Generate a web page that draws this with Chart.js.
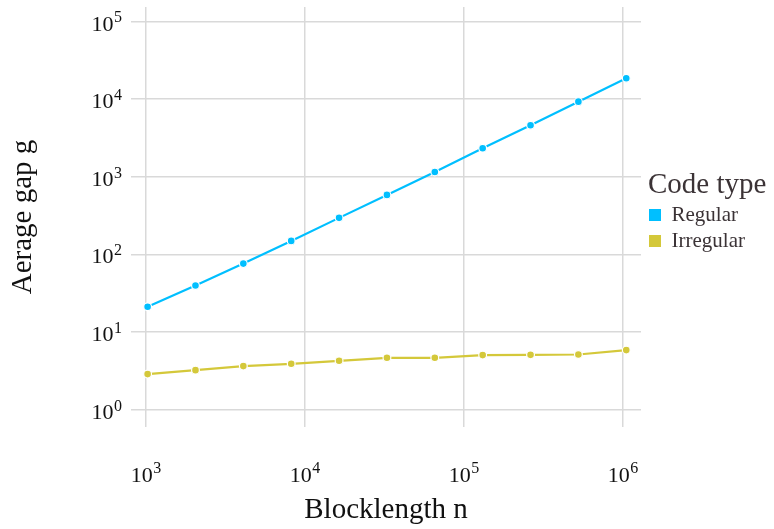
<!DOCTYPE html>
<html>
<head>
<meta charset="utf-8">
<script src="https://cdn.jsdelivr.net/npm/chart.js@4/dist/chart.umd.min.js"></script>
<style>
  html, body { margin: 0; padding: 0; background: #ffffff; }
  #wrap { width: 774px; height: 529px; position: relative; }
</style>
</head>
<body>
<div id="wrap"><canvas id="c"></canvas></div>
<script>
// ---- data ----
const blocklengths = [1024, 2048, 4096, 8192, 16384, 32768, 65536, 131072, 262144, 524288, 1048576];
const regularGap = [21.2, 39.8, 76.3, 149.6, 296, 585, 1156, 2335, 4616, 9290, 18580];
const irregularGap = [2.88, 3.24, 3.65, 3.91, 4.27, 4.67, 4.67, 5.06, 5.10, 5.15, 5.87];
const seriesNames = ['Regular', 'Irregular'];
const seriesColors = ['#00BFFF', '#D4C83A'];
const xTickValues = [1e3, 1e4, 1e5, 1e6];
const yTickValues = [1e0, 1e1, 1e2, 1e3, 1e4, 1e5];
const xTitle = 'Blocklength n';
const yTitle = 'Aerage gap g';
const legendTitle = 'Code type';

const FONT = "'Liberation Serif', 'DejaVu Serif', serif";

function expOf(v) { return String(Math.round(Math.log10(v))); }

// draws tick labels as "10" with a raised exponent
const powerTicksPlugin = {
  id: 'powerTicks',
  afterDraw(chart) {
    const ctx = chart.ctx;
    const base = '22px ' + FONT;
    const sup = '16px ' + FONT;
    ctx.save();
    ctx.fillStyle = '#111111';
    ctx.textBaseline = 'alphabetic';
    ctx.textAlign = 'left';
    const ys = chart.scales.y;
    yTickValues.forEach(v => {
      const py = ys.getPixelForValue(v);
      const e = expOf(v);
      ctx.font = sup; const ew = ctx.measureText(e).width;
      ctx.font = base; const bw = ctx.measureText('10').width;
      const right = ys.right - 9;
      ctx.fillText('10', right - ew - bw - 0.5, py + 9);
      ctx.font = sup; ctx.fillText(e, right - ew, py + 0.8);
    });
    const xs = chart.scales.x;
    xTickValues.forEach(v => {
      const px = xs.getPixelForValue(v);
      const e = expOf(v);
      ctx.font = sup; const ew = ctx.measureText(e).width;
      ctx.font = base; const bw = ctx.measureText('10').width;
      const left = px - (bw + ew + 0.5) / 2;
      ctx.fillText('10', left, 481.5);
      ctx.font = sup; ctx.fillText(e, left + bw + 0.5, 472.5);
    });
    ctx.restore();
  }
};

const layoutPlugin = {
  id: 'layoutTweaks',
  afterInit(chart) {
    const lg = chart.legend;
    if (!lg) return;
    const origFit = lg.fit.bind(lg);
    lg.fit = function () { origFit(); this.width = 133; };
    const tName = typeof lg.drawTitle === 'function' ? 'drawTitle' : (typeof lg._drawTitle === 'function' ? '_drawTitle' : null);
    if (tName) {
      const origTitle = lg[tName].bind(lg);
      lg[tName] = function () { this.left += 4; try { origTitle(); } finally { this.left -= 4; } };
    }
  },
  afterLayout(chart) {
    const lg = chart.legend;
    if (!lg) return;
    const h = lg.height;
    lg.left += 3; lg.right += 3;
    lg.top = 170.5; lg.bottom = lg.top + h;
  }
};

const datasets = [regularGap, irregularGap].map((vals, k) => ({
  label: seriesNames[k],
  data: blocklengths.map((x, i) => ({ x: x, y: vals[i] })),
  borderColor: seriesColors[k],
  backgroundColor: seriesColors[k],
  pointBackgroundColor: seriesColors[k],
  pointBorderColor: '#ffffff',
  pointBorderWidth: 1.2,
  pointRadius: 3.9,
  borderWidth: 2.2,
  tension: 0,
  fill: false
}));

new Chart(document.getElementById('c'), {
  type: 'line',
  data: { datasets: datasets },
  plugins: [layoutPlugin, powerTicksPlugin],
  options: {
    responsive: true,
    maintainAspectRatio: false,
    animation: false,
    devicePixelRatio: 1,
    layout: { padding: { top: 7, left: 0, right: 0, bottom: 0 } },
    plugins: {
      tooltip: { enabled: false },
      legend: {
        position: 'right',
        align: 'start',
        title: {
          display: true,
          text: legendTitle,
          position: 'start',
          color: '#3b3336',
          padding: 0,
          font: { family: FONT, size: 29, lineHeight: 1.0 }
        },
        labels: {
          color: '#3b3336',
          font: { family: FONT, size: 21 },
          boxWidth: 12,
          boxHeight: 12,
          padding: 5,
          generateLabels(chart) {
            const items = Chart.defaults.plugins.legend.labels.generateLabels(chart);
            items.forEach(it => { it.lineWidth = 0; it.strokeStyle = it.fillStyle; });
            return items;
          }
        }
      }
    },
    scales: {
      x: {
        type: 'logarithmic',
        position: 'bottom',
        min: 805,
        max: 1.298e6,
        afterBuildTicks(scale) { scale.ticks = xTickValues.map(v => ({ value: v })); },
        afterFit(scale) { scale.height = 102; scale.paddingLeft = 0; scale.paddingRight = 0; },
        border: { display: false },
        grid: { color: '#d9d9d9', lineWidth: 1.5, drawTicks: false },
        ticks: { display: false, autoSkip: false, maxRotation: 0 },
        title: {
          display: true,
          text: xTitle,
          color: '#111111',
          padding: { top: 0, bottom: 1 },
          font: { family: FONT, size: 29 }
        }
      },
      y: {
        type: 'logarithmic',
        position: 'left',
        min: 0.641,
        max: 153800,
        afterBuildTicks(scale) { scale.ticks = yTickValues.map(v => ({ value: v })); },
        afterFit(scale) { scale.width = 131; scale.paddingTop = 0; scale.paddingBottom = 0; },
        border: { display: false },
        grid: { color: '#d9d9d9', lineWidth: 1.5, drawTicks: false },
        ticks: { display: false, autoSkip: false },
        title: {
          display: true,
          text: yTitle,
          color: '#111111',
          padding: { top: 6, bottom: 0 },
          font: { family: FONT, size: 29 }
        }
      }
    }
  }
});
</script>
</body>
</html>
